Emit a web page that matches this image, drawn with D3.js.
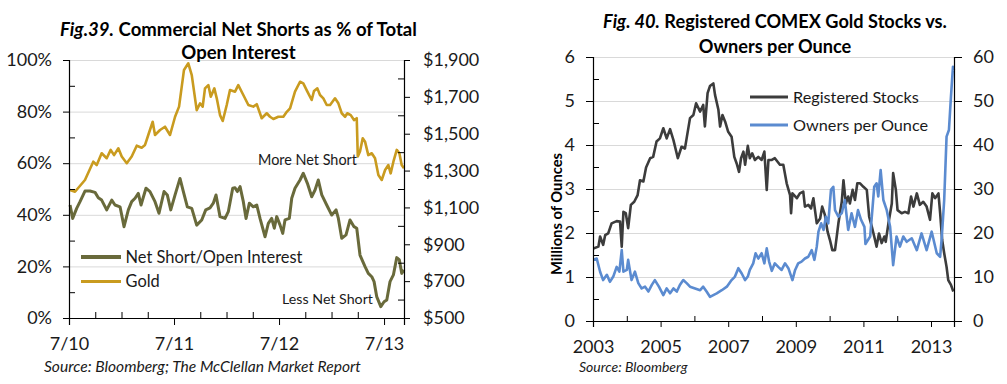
<!DOCTYPE html>
<html>
<head>
<meta charset="utf-8">
<script src="https://cdn.jsdelivr.net/npm/d3@7"></script>
<style>
  html, body { margin: 0; padding: 0; background: #fff; }
  svg { display: block; font-family: Lato, "Open Sans", sans-serif; }
</style>
</head>
<body>
<svg id="chart" width="1007" height="384"></svg>
<script>
// ---------- Fig. 39 data ----------
const netShortDates = [2010.510,2010.535,2010.573,2010.605,2010.652,2010.700,2010.748,2010.779,2010.811,2010.859,2010.907,2010.938,2010.986,2011.024,2011.065,2011.097,2011.129,2011.160,2011.186,2011.233,2011.271,2011.319,2011.357,2011.405,2011.436,2011.469,2011.510,2011.557,2011.589,2011.627,2011.669,2011.716,2011.764,2011.802,2011.843,2011.874,2011.900,2011.938,2011.986,2012.017,2012.059,2012.081,2012.103,2012.129,2012.160,2012.186,2012.217,2012.255,2012.288,2012.319,2012.367,2012.398,2012.430,2012.455,2012.478,2012.510,2012.535,2012.557,2012.598,2012.621,2012.652,2012.700,2012.731,2012.770,2012.811,2012.843,2012.874,2012.907,2012.954,2013.002,2013.043,2013.065,2013.097,2013.138,2013.176,2013.214,2013.240,2013.271,2013.319,2013.350,2013.383,2013.405,2013.430,2013.469,2013.500,2013.526,2013.557,2013.589,2013.621,2013.646,2013.668,2013.690];
const netShortPct = [43.8,38.6,42.5,45.1,49.2,49.2,48.7,46.6,45.7,41.9,45.7,43.8,43.1,35.4,41.9,45.1,46.4,48.3,43.8,50.3,49.0,45.1,40.6,49.0,47.7,41.9,47.7,54.1,49.0,43.1,42.5,36.0,38.0,41.9,42.7,44.5,47.7,39.3,38.6,41.2,50.3,50.5,49.0,50.9,45.1,38.6,44.5,43.1,43.8,38.6,31.5,36.7,38.6,34.8,39.3,36.0,32.8,38.0,38.6,46.4,50.3,53.5,56.1,52.2,47.0,49.6,53.5,47.7,43.8,39.9,41.9,38.6,30.9,32.2,38.0,35.4,34.8,24.4,19.9,17.3,16.0,14.1,8.3,4.4,6.3,7.0,14.1,16.7,23.4,22.5,17.3,18.6];
const goldDates = [2010.510,2010.557,2010.652,2010.731,2010.764,2010.811,2010.859,2010.897,2010.929,2010.970,2011.002,2011.050,2011.097,2011.145,2011.192,2011.224,2011.255,2011.297,2011.319,2011.367,2011.414,2011.462,2011.510,2011.548,2011.595,2011.636,2011.669,2011.716,2011.748,2011.773,2011.795,2011.827,2011.850,2011.884,2011.907,2011.938,2011.964,2012.002,2012.033,2012.081,2012.112,2012.160,2012.208,2012.255,2012.288,2012.335,2012.383,2012.414,2012.446,2012.493,2012.541,2012.574,2012.605,2012.652,2012.700,2012.731,2012.770,2012.811,2012.833,2012.865,2012.890,2012.922,2012.954,2012.986,2013.033,2013.065,2013.097,2013.129,2013.150,2013.183,2013.214,2013.240,2013.250,2013.271,2013.297,2013.319,2013.350,2013.383,2013.414,2013.446,2013.478,2013.510,2013.541,2013.563,2013.589,2013.621,2013.646,2013.668,2013.690];
const goldPrice = [1194,1185,1249,1348,1330,1394,1367,1412,1384,1421,1376,1340,1376,1435,1424,1439,1493,1565,1493,1520,1538,1493,1592,1647,1846,1882,1818,1628,1665,1647,1746,1764,1701,1746,1692,1601,1569,1656,1737,1728,1764,1710,1656,1647,1660,1584,1611,1592,1580,1592,1592,1619,1638,1728,1782,1773,1728,1683,1732,1746,1710,1692,1656,1656,1692,1665,1611,1592,1611,1601,1574,1584,1376,1403,1475,1457,1384,1394,1367,1276,1249,1303,1330,1285,1348,1412,1394,1330,1312];
const pctTicks = [0,20,40,60,80,100];
const pctMinorTicks = [10,30,50,70,90];
const goldTicks = [500,700,900,1100,1300,1500,1700,1900];
const goldMinorTicks = [600,800,1000,1200,1400,1600,1800];
const leftXTicks = [2010.5,2011.5,2012.5,2013.5];
const leftXTickLabels = ["7/10","7/11","7/12","7/13"];
const leftXMinorTicks = [2010.75,2011.0,2011.25,2011.75,2012.0,2012.25,2012.75,2013.0,2013.25];

// ---------- Fig. 40 data ----------
const regDates = [2003.01,2003.16,2003.21,2003.30,2003.36,2003.45,2003.55,2003.70,2003.80,2003.85,2003.90,2003.97,2004.04,2004.12,2004.22,2004.32,2004.39,2004.49,2004.57,2004.69,2004.78,2004.88,2004.98,2005.08,2005.18,2005.28,2005.38,2005.51,2005.62,2005.72,2005.77,2005.87,2005.97,2006.05,2006.17,2006.26,2006.31,2006.39,2006.46,2006.56,2006.61,2006.71,2006.76,2006.83,2006.91,2007.00,2007.10,2007.18,2007.25,2007.32,2007.38,2007.45,2007.50,2007.58,2007.64,2007.71,2007.79,2007.89,2007.99,2008.07,2008.14,2008.19,2008.29,2008.38,2008.53,2008.63,2008.73,2008.83,2008.86,2008.90,2009.03,2009.12,2009.22,2009.27,2009.37,2009.45,2009.52,2009.62,2009.72,2009.78,2009.86,2009.94,2010.01,2010.08,2010.16,2010.26,2010.36,2010.41,2010.48,2010.55,2010.60,2010.68,2010.75,2010.82,2010.90,2011.00,2011.10,2011.17,2011.25,2011.32,2011.39,2011.46,2011.54,2011.62,2011.66,2011.74,2011.84,2011.88,2011.96,2012.01,2012.13,2012.23,2012.33,2012.41,2012.48,2012.58,2012.67,2012.77,2012.87,2012.97,2013.04,2013.12,2013.22,2013.27,2013.33,2013.39,2013.46,2013.51,2013.59,2013.66];
const regStocks = [1.65,1.69,1.92,1.73,1.95,1.99,2.22,2.27,2.26,1.69,2.48,2.45,2.11,2.64,2.71,2.86,3.20,3.17,3.49,3.70,3.73,4.08,4.15,4.38,4.15,4.36,4.11,3.70,3.96,3.92,4.15,4.61,4.68,4.95,4.76,4.91,4.42,5.18,5.34,5.40,5.14,4.80,4.42,4.68,4.53,4.30,4.19,3.73,3.58,3.39,3.70,3.85,3.55,3.98,3.70,3.81,3.66,3.73,3.66,3.85,2.98,3.66,3.66,3.70,3.55,3.55,3.13,2.86,2.45,2.90,2.79,2.90,2.94,2.60,2.64,2.56,2.79,2.22,2.33,2.60,2.41,2.03,1.84,1.61,1.61,2.22,2.71,3.20,2.67,2.83,2.67,2.98,2.75,3.13,3.13,3.05,2.98,2.37,2.14,1.92,1.69,1.99,1.77,1.92,1.80,2.22,2.67,3.36,2.98,2.52,2.45,2.48,2.45,2.83,2.60,2.90,2.64,2.71,2.60,2.30,2.90,2.79,2.90,2.45,1.84,1.54,1.23,0.93,0.82,0.67];
const ownerDates = [2003.01,2003.11,2003.21,2003.30,2003.41,2003.50,2003.60,2003.70,2003.78,2003.85,2003.90,2004.00,2004.04,2004.14,2004.24,2004.34,2004.44,2004.54,2004.64,2004.74,2004.83,2004.95,2005.08,2005.18,2005.28,2005.38,2005.48,2005.57,2005.67,2005.77,2005.87,2006.02,2006.17,2006.26,2006.36,2006.46,2006.56,2006.66,2006.81,2006.96,2007.10,2007.20,2007.30,2007.40,2007.50,2007.58,2007.64,2007.74,2007.81,2007.89,2007.99,2008.07,2008.14,2008.21,2008.29,2008.38,2008.48,2008.58,2008.68,2008.78,2008.90,2008.98,2009.07,2009.17,2009.27,2009.37,2009.47,2009.55,2009.62,2009.67,2009.75,2009.82,2009.89,2009.96,2010.04,2010.11,2010.16,2010.26,2010.36,2010.45,2010.55,2010.65,2010.75,2010.84,2010.93,2011.03,2011.06,2011.20,2011.32,2011.39,2011.44,2011.51,2011.59,2011.69,2011.79,2011.88,2011.98,2012.08,2012.18,2012.28,2012.43,2012.58,2012.72,2012.87,2013.02,2013.17,2013.27,2013.32,2013.39,2013.46,2013.53,2013.59,2013.65,2013.68];
const ownersPerOz = [13.9,14.2,11.2,9.3,10.5,8.9,10.1,12.3,11.2,16.1,11.2,11.6,13.9,9.3,11.2,8.6,7.4,7.8,6.7,8.2,9.3,7.8,5.9,7.4,6.3,7.4,6.7,8.2,9.3,8.6,7.8,7.4,7.0,7.8,6.7,5.5,5.9,6.3,7.0,7.8,9.3,10.1,12.0,10.8,9.3,10.1,11.6,13.1,15.4,14.2,15.4,13.1,16.5,13.5,11.4,13.1,12.3,11.6,13.1,12.0,9.3,11.6,13.1,13.5,14.2,14.6,16.1,13.9,16.9,20.3,22.2,20.7,23.7,22.2,29.8,30.5,25.2,23.7,24.5,27.5,20.7,24.5,21.4,25.2,23.0,21.4,17.5,19.2,30.5,31.3,28.3,34.3,27.5,25.2,21.4,12.7,19.2,16.9,19.2,18.0,18.8,16.1,19.9,16.1,20.3,15.4,14.6,19.2,27.5,41.9,43.4,51.0,57.8,57.0];
const ozTicks = [0,1,2,3,4,5,6];
const ozMinorTicks = [0.5,1.5,2.5,3.5,4.5,5.5];
const ownerTicks = [0,10,20,30,40,50,60];
const rightXTicks = [2003,2005,2007,2009,2011,2013];
const rightXMinorTicks = [2004,2006,2008,2010,2012];

// ---------- helpers ----------
const svg = d3.select("#chart");
const FONT = "Lato, 'Open Sans', sans-serif";
const TICKCOL = "#1a1a1a";
const GRID = "#d9d9d9";

function fitText(sel, targetW) {
  const node = sel.node();
  const w = node.getComputedTextLength();
  const fs = parseFloat(sel.attr("font-size"));
  if (w > 0) sel.attr("font-size", (fs * targetW / w).toFixed(2));
  return sel;
}

function styleAxis(g, fs) {
  g.attr("font-family", FONT).attr("font-size", fs);
  g.selectAll("text").attr("fill", TICKCOL);
  g.selectAll("line").attr("stroke", "#000").attr("stroke-width", 1);
  g.select(".domain").attr("stroke", "#000").attr("stroke-width", 1.2);
}

// ================= Fig. 39 =================
{
  const L = 69, R = 404, T = 60, B = 318;
  const x = d3.scaleLinear().domain([2010.5, 2013.69]).range([L, R]);
  const yP = d3.scaleLinear().domain([0, 100]).range([B, T]);
  const yG = d3.scaleLinear().domain([500, 1900]).range([B, T]);
  const g = svg.append("g");

  // gridlines
  g.append("g").attr("transform", `translate(${L},0)`)
    .call(d3.axisLeft(yP).tickValues(pctTicks.slice(1)).tickSize(-(R - L)).tickFormat(""))
    .call(a => { a.select(".domain").remove(); a.selectAll("line").attr("stroke", GRID).attr("stroke-width", 1); });

  // series
  const gold = d3.line().x((d, i) => x(goldDates[i])).y(d => yG(d));
  g.append("path").attr("d", gold(goldPrice)).attr("fill", "none")
    .attr("stroke", "#c99b1f").attr("stroke-width", 2.6).attr("stroke-linejoin", "round");
  const ns = d3.line().x((d, i) => x(netShortDates[i])).y(d => yP(d));
  g.append("path").attr("d", ns(netShortPct)).attr("fill", "none")
    .attr("stroke", "#696a3b").attr("stroke-width", 3).attr("stroke-linejoin", "round");

  // left axis
  g.append("g").attr("transform", `translate(${L},0)`)
    .call(d3.axisLeft(yP).tickValues(pctTicks).tickSize(6).tickPadding(11).tickFormat(d => d + "%"))
    .call(a => styleAxis(a, 18));
  g.append("g").attr("transform", `translate(${L},0)`)
    .call(d3.axisLeft(yP).tickValues(pctMinorTicks).tickSize(-6).tickFormat(""))
    .call(a => { a.select(".domain").remove(); a.selectAll("line").attr("stroke", "#000"); });
  // right axis
  g.append("g").attr("transform", `translate(${R},0)`)
    .call(d3.axisRight(yG).tickValues(goldTicks).tickSize(6).tickPadding(13).tickFormat(d => "$" + d3.format(",")(d)))
    .call(a => styleAxis(a, 18));
  g.append("g").attr("transform", `translate(${R},0)`)
    .call(d3.axisRight(yG).tickValues(goldMinorTicks).tickSize(-6).tickFormat(""))
    .call(a => { a.select(".domain").remove(); a.selectAll("line").attr("stroke", "#000"); });
  // bottom axis
  g.append("g").attr("transform", `translate(0,${B})`)
    .call(d3.axisBottom(x).tickValues(leftXTicks).tickSize(7).tickPadding(12).tickFormat((d, i) => leftXTickLabels[i]))
    .call(a => styleAxis(a, 18));
  g.append("g").attr("transform", `translate(0,${B})`)
    .call(d3.axisBottom(x).tickValues(leftXMinorTicks).tickSize(-6).tickFormat(""))
    .call(a => { a.select(".domain").remove(); a.selectAll("line").attr("stroke", "#000"); });

  // title
  const t1 = g.append("text").attr("x", 238.5).attr("y", 36).attr("text-anchor", "middle")
    .attr("font-family", FONT).attr("font-size", 19).attr("font-weight", "bold").attr("fill", "#000");
  t1.append("tspan").attr("font-style", "italic").text("Fig.39.");
  t1.append("tspan").text(" Commercial Net Shorts as % of Total");
  fitText(t1, 357);
  const t2 = g.append("text").attr("x", 238.5).attr("y", 59).attr("text-anchor", "middle")
    .attr("font-family", FONT).attr("font-size", 19).attr("font-weight", "bold").attr("fill", "#000")
    .text("Open Interest");
  t2.attr("font-size", t1.attr("font-size"));

  // annotations
  const a1 = g.append("text").attr("x", 258).attr("y", 165).attr("font-family", FONT)
    .attr("font-size", 16).attr("fill", "#1a1a1a").text("More Net Short");
  fitText(a1, 99);
  const a2 = g.append("text").attr("x", 282).attr("y", 304).attr("font-family", FONT)
    .attr("font-size", 16).attr("fill", "#1a1a1a").text("Less Net Short");
  fitText(a2, 91);

  // legend
  const leg = [
    { label: "Net Short/Open Interest", color: "#696a3b", w: 4, y: 257, tw: 177 },
    { label: "Gold", color: "#c99b1f", w: 3, y: 281.5, tw: 0 }
  ];
  let legFs = 16;
  leg.forEach((d, i) => {
    g.append("line").attr("x1", 81).attr("x2", 121).attr("y1", d.y).attr("y2", d.y)
      .attr("stroke", d.color).attr("stroke-width", d.w);
    const t = g.append("text").attr("x", 125.5).attr("y", d.y + 5.5).attr("font-family", FONT)
      .attr("font-size", legFs).attr("fill", "#1a1a1a").text(d.label);
    if (i === 0) { fitText(t, d.tw); legFs = +t.attr("font-size"); }
  });

  // source
  const s = g.append("text").attr("x", 44).attr("y", 372).attr("font-family", FONT)
    .attr("font-size", 14).attr("font-style", "italic").attr("fill", "#1a1a1a");
  s.append("tspan").text("Source: Bloomberg; ");
  s.append("tspan").text("The McClellan Market Report");
  fitText(s, 317);
}

// ================= Fig. 40 =================
{
  const L = 593, R = 954, T = 57, B = 321;
  const x = d3.scaleLinear().domain([2003, 2013.68]).range([L, R]);
  const yO = d3.scaleLinear().domain([0, 6]).range([B, T]);
  const yN = d3.scaleLinear().domain([0, 60]).range([B, T]);
  const g = svg.append("g");

  g.append("g").attr("transform", `translate(${L},0)`)
    .call(d3.axisLeft(yO).tickValues(ozTicks.slice(1)).tickSize(-(R - L)).tickFormat(""))
    .call(a => { a.select(".domain").remove(); a.selectAll("line").attr("stroke", GRID).attr("stroke-width", 1); });

  const reg = d3.line().x((d, i) => x(regDates[i])).y(d => yO(d));
  g.append("path").attr("d", reg(regStocks)).attr("fill", "none")
    .attr("stroke", "#3c3c3c").attr("stroke-width", 2.6).attr("stroke-linejoin", "round");
  const own = d3.line().x((d, i) => x(ownerDates[i])).y(d => yN(d));
  g.append("path").attr("d", own(ownersPerOz)).attr("fill", "none")
    .attr("stroke", "#5b8bd0").attr("stroke-width", 2.6).attr("stroke-linejoin", "round");

  g.append("g").attr("transform", `translate(${L},0)`)
    .call(d3.axisLeft(yO).tickValues(ozTicks).tickSize(7).tickPadding(11).tickFormat(d3.format("d")))
    .call(a => styleAxis(a, 18));
  g.append("g").attr("transform", `translate(${L},0)`)
    .call(d3.axisLeft(yO).tickValues(ozMinorTicks).tickSize(-6).tickFormat(""))
    .call(a => { a.select(".domain").remove(); a.selectAll("line").attr("stroke", "#000"); });
  g.append("g").attr("transform", `translate(${R},0)`)
    .call(d3.axisRight(yN).tickValues(ownerTicks).tickSize(8).tickPadding(11).tickFormat(d3.format("d")))
    .call(a => styleAxis(a, 18));
  g.append("g").attr("transform", `translate(0,${B})`)
    .call(d3.axisBottom(x).tickValues(rightXTicks).tickSize(6).tickPadding(13).tickFormat(d3.format("d")))
    .call(a => styleAxis(a, 18));
  g.append("g").attr("transform", `translate(0,${B})`)
    .call(d3.axisBottom(x).tickValues(rightXMinorTicks).tickSize(-5).tickFormat(""))
    .call(a => { a.select(".domain").remove(); a.selectAll("line").attr("stroke", "#000"); });

  // y-axis title
  const yt = g.append("text").attr("transform", "translate(562,214) rotate(-90)")
    .attr("text-anchor", "middle").attr("font-family", FONT).attr("font-size", 15)
    .attr("font-weight", "bold").attr("fill", "#000").text("Millions of Ounces");
  fitText(yt, 122);

  // title
  const t1 = g.append("text").attr("x", 775).attr("y", 28).attr("text-anchor", "middle")
    .attr("font-family", FONT).attr("font-size", 19).attr("font-weight", "bold").attr("fill", "#000");
  t1.append("tspan").attr("font-style", "italic").text("Fig. 40.");
  t1.append("tspan").text(" Registered COMEX Gold Stocks vs.");
  fitText(t1, 344);
  g.append("text").attr("x", 775).attr("y", 52.5).attr("text-anchor", "middle")
    .attr("font-family", FONT).attr("font-size", t1.attr("font-size")).attr("font-weight", "bold")
    .attr("fill", "#000").text("Owners per Ounce");

  // legend
  const leg = [
    { label: "Registered Stocks", color: "#3c3c3c", y: 97 },
    { label: "Owners per Ounce", color: "#5b8bd0", y: 125 }
  ];
  let legFs = 16;
  leg.forEach((d, i) => {
    g.append("line").attr("x1", 750).attr("x2", 788).attr("y1", d.y).attr("y2", d.y)
      .attr("stroke", d.color).attr("stroke-width", 3);
    const t = g.append("text").attr("x", 793).attr("y", d.y + 5.5).attr("font-family", FONT)
      .attr("font-size", legFs).attr("fill", "#1a1a1a").text(d.label);
    if (i === 0) { fitText(t, 126); legFs = +t.attr("font-size"); }
  });

  const s = g.append("text").attr("x", 579).attr("y", 372).attr("font-family", FONT)
    .attr("font-size", 14).attr("font-style", "italic").attr("fill", "#1a1a1a").text("Source: Bloomberg");
}
</script>
</body>
</html>
